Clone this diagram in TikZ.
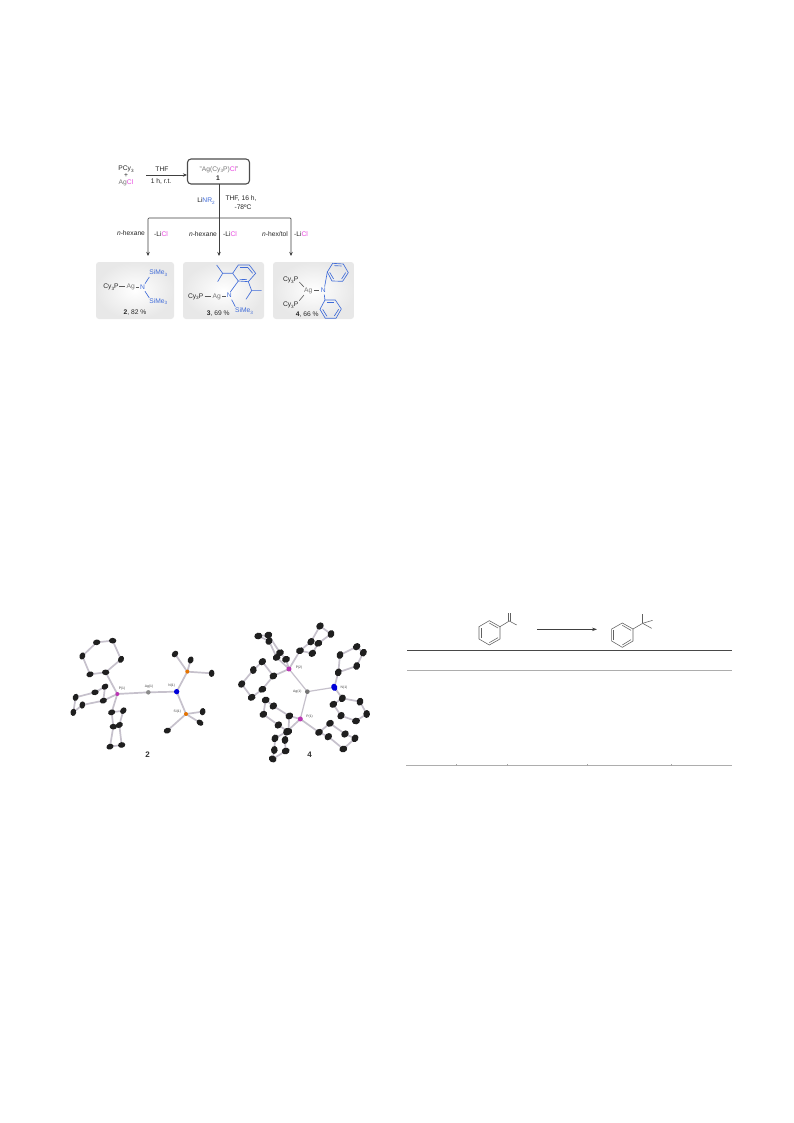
\documentclass[tikz,border=0pt]{standalone}
\usepackage{fontspec}
\setmainfont{Liberation Sans}
\definecolor{blu}{HTML}{3F6BD8}
\definecolor{mag}{HTML}{E845E0}
\definecolor{agc}{HTML}{777777}
\definecolor{bond}{HTML}{C6C1CC}
\newcommand{\sbs}[1]{\raisebox{-0.45ex}{\fontsize{4.6}{5}\selectfont #1}}
\tikzset{
  txt/.style={font=\fontsize{6.7}{7}\selectfont, text=black!85, inner sep=0pt},
  tiny/.style={font=\fontsize{3.4}{4}\selectfont, text=black!75, inner sep=0pt},
  conn/.style={draw=black!75, line width=0.7pt},
  arr/.style={conn, -{Stealth[length=4pt,width=3.5pt]}},
  panel/.style={rounded corners=3pt, shade, inner color=white, outer color=black!9},
  mline/.style={draw=black!65, line width=0.6pt},
  bline/.style={draw=blu, line width=0.65pt},
  zs/.style={x=0.3333pt, y=-0.3333pt},
  bd/.style={draw=bond, line width=1.7pt, line join=round},
  ca/.style={fill=black!88, draw=none},
  chem/.style={draw=black!62, line width=0.55pt},
  rule1/.style={draw=black!72, line width=0.7pt},
  rule2/.style={draw=black!32, line width=0.8pt},
}
\usetikzlibrary{arrows.meta}
\begin{document}
\begin{tikzpicture}[x=1pt,y=-1pt]
\useasboundingbox (0,0) rectangle (793,1123);
\fill[white] (0,0) rectangle (793,1123);

% ---------- scheme: flow ----------
\node[txt] (pcy) at (126,169) {PCy\sbs{3}};
\node[txt] (plus) at (126,176) {+};
\node[txt,text=agc] (agcl) at (126,183) {Ag\textcolor{mag}{Cl}};
\node[txt] (thf) at (162,169) {THF};
\node[txt] (rt) at (161,182) {1 h, r.t.};
\node[draw=black!70, line width=1.1pt, rounded corners=3.5pt, minimum width=62pt, minimum height=25pt, fill=white, inner sep=0pt] (box) at (218.5,171.5) {};
\node[txt,text=agc] (t1) at (219,169.5) {"Ag(Cy\sbs{3}P)\textcolor{mag}{Cl}"};
\node[txt,font=\fontsize{6.7}{7}\selectfont\bfseries] (t2) at (218,178.5) {1};
\coordinate (a0) at (146,175);
\draw[arr] (a0) -- (box.west |- a0);
\node[txt] (linr) at (206,201) {Li\textcolor{blu}{NR\sbs{2}}};
\node[txt] (c1) at (241,199) {THF, 16 h,};
\node[txt] (c2) at (243,207) {-78ºC};
\coordinate (j) at (219,218);
\coordinate (jl) at (148,218);
\coordinate (jr) at (291,218);
\coordinate (e1) at (148,256);
\coordinate (e2) at (219,256);
\coordinate (e3) at (291,256);
\coordinate (bs) at (219,184);
\draw[arr] (bs) -- (e2);
\draw[arr,rounded corners=1pt] (j) -- (jl) -- (e1);
\draw[arr,rounded corners=1pt] (j) -- (jr) -- (e3);
\node[txt] (l1) at (131,233) {\textit{n}-hexane};
\node[txt] (l2) at (161,234) {-Li\textcolor{mag}{Cl}};
\node[txt] (l3) at (203,234) {\textit{n}-hexane};
\node[txt] (l4) at (230,234) {-Li\textcolor{mag}{Cl}};
\node[txt] (l5) at (275,234) {\textit{n}-hex/tol};
\node[txt] (l6) at (301,234) {-Li\textcolor{mag}{Cl}};

% ---------- panels ----------
\path[panel] (96,262) rectangle (174,319);
\path[panel] (183,262) rectangle (264,319);
\path[panel] (273,262) rectangle (354,319);

% ---------- compound 2, 3, 4 (coordinates in zoom units) ----------
\begin{scope}[shift={(90,150)},zs]
% 2
\node[txt] (p2) at (63,412) {Cy\sbs{3}P};
\node[txt,text=agc] (ag2) at (122,411) {Ag};
\node[txt,text=blu] (n2) at (158,412) {N};
\node[txt,text=blu] (s2a) at (205,369) {SiMe\sbs{3}};
\node[txt,text=blu] (s2b) at (205,455) {SiMe\sbs{3}};
\node[txt] (y2) at (135,487) {\textbf{2}, 82 \%};
\draw[mline] (88,410) -- (106,410);
\draw[mline] (138,411) -- (148,411);
\draw[bline] (165,401) -- (178,381);
\draw[bline] (165,424) -- (178,444);
% 3
\node[txt] (p3) at (317,440) {Cy\sbs{3}P};
\node[txt,text=agc] (ag3) at (380,440) {Ag};
\node[txt,text=blu] (n3) at (418,437) {N};
\node[txt,text=blu] (s3) at (462,483) {SiMe\sbs{3}};
\node[txt] (y3) at (385,492) {\textbf{3}, 69 \%};
\draw[mline] (344,438) -- (362,438);
\draw[mline] (397,438) -- (408,438);
\draw[bline] (425,449) -- (436,470);
\draw[bline] (428,370) -- (445,345) -- (478,345) -- (497,370) -- (475,395) -- (445,393) -- cycle;
\draw[bline] (450,352) -- (474,352);
\draw[bline] (449,388) -- (471,389);
\draw[bline] (488,370) -- (473,352);
\draw[bline] (445,393) -- (421,426);
\draw[bline] (380,345) -- (398,370) -- (428,370);
\draw[bline] (398,370) -- (383,395);
\draw[bline] (475,395) -- (485,422) -- (515,422);
\draw[bline] (485,422) -- (468,448);
% 4
\node[txt] (p4a) at (602,390) {Cy\sbs{3}P};
\node[txt] (p4b) at (602,465) {Cy\sbs{3}P};
\node[txt,text=agc] (ag4) at (655,422) {Ag};
\node[txt,text=blu] (n4) at (700,422) {N};
\node[txt] (y4) at (652,495) {\textbf{4}, 66 \%};
\draw[mline] (628,396) -- (642,411);
\draw[mline] (628,452) -- (642,435);
\draw[mline] (672,422) -- (686,422);
\draw[bline] (712,366) -- (728,340) -- (760,342) -- (775,368) -- (758,394) -- (726,393) -- cycle;
\draw[bline] (733,347) -- (755,348);
\draw[bline] (767,368) -- (755,387);
\draw[bline] (731,387) -- (719,367);
\draw[bline] (704,410) -- (712,366);
\draw[bline] (705,450) -- (736,450) -- (754,477) -- (738,505) -- (706,505) -- (690,478) -- cycle;
\draw[bline] (711,456) -- (731,456);
\draw[bline] (746,478) -- (733,498);
\draw[bline] (711,499) -- (698,478);
\draw[bline] (703,434) -- (705,450);
\end{scope}

% ---------- ORTEP 2 ----------
\begin{scope}[shift={(60,610)},zs]
\draw[bd] (137,187) -- (90,193) -- (67,138) -- (110,97) -- (158,92) -- (183,148) -- cycle;
\draw[bd] (137,187) -- (172,252);
\draw[bd] (172,252) -- (130,272) -- (135,230) -- (105,247) -- (47,262) -- (40,307) -- (67,285) -- (130,272);
\draw[bd] (172,252) -- (155,307) -- (190,302) -- (178,345) -- (185,405) -- (150,410) -- (160,350) -- (155,307);
\draw[bd] (172,252) -- (265,247) -- (350,245);
\draw[bd] (350,245) -- (382,185);
\draw[bd] (382,185) -- (345,132);
\draw[bd] (382,185) -- (392,150);
\draw[bd] (382,185) -- (455,190);
\draw[bd] (350,245) -- (378,312);
\draw[bd] (378,312) -- (428,305);
\draw[bd] (378,312) -- (420,338);
\draw[bd] (378,312) -- (322,362);
\foreach \x/\y/\r in {90/193/20,67/138/70,110/97/10,158/92/0,183/148/60,137/187/0,135/230/30,105/247/10,47/262/70,40/307/80,67/285/80,130/272/20,155/307/20,190/302/50,178/345/30,185/405/10,150/410/20,160/350/0,345/132/50,392/150/70,455/190/85,428/305/80,420/338/-35,322/362/20}
  \fill[ca,rotate around={\r:(\x,\y)}] (\x,\y) ellipse (11 and 8.5);
\fill[draw=black!50,fill=black!45,line width=0.3pt] (265,247) circle (6);
\fill[blue!85!black] (350,245) circle (8);
\fill[mag!80!black] (172,252) circle (6);
\fill[orange!90!black] (382,185) circle (6);
\fill[orange!90!black] (378,312) circle (6);
\node[tiny] (o1) at (186,236) {P(1)};
\node[tiny] (o2) at (267,231) {Ag(1)};
\node[tiny] (o3) at (335,228) {N(1)};
\node[tiny] (o4) at (352,304) {Si(1)};
\node[font=\fontsize{8}{8}\selectfont\bfseries, text=black!80, inner sep=0pt] (o5) at (263,434) {2};
\end{scope}

% ---------- ORTEP 4 ----------
\begin{scope}[shift={(225,610)},zs]
\draw[bd,line width=1.2pt] (192,177) -- (247,245) -- (226,327);
\draw[bd,line width=1.2pt] (247,245) -- (328,232);
\draw[bd] (192,177) -- (225,122) -- (258,95) -- (285,48) -- (318,72) -- (280,100) -- (262,130) -- (225,122);
\draw[bd] (192,177) -- (155,142) -- (132,93) -- (100,78) -- (130,75) -- (165,128) -- (183,148) -- (192,177);
\draw[bd] (192,177) -- (145,198) -- (112,155) -- (85,180) -- (50,222) -- (80,262) -- (112,238) -- (145,198);
\draw[bd] (328,232) -- (340,187) -- (345,135) -- (395,110) -- (415,128) -- (395,168) -- (340,187);
\draw[bd] (328,232) -- (352,265) -- (405,275) -- (425,312) -- (393,333) -- (348,317) -- (325,283) -- (352,265);
\draw[bd] (226,327) -- (193,318) -- (145,288) -- (122,270) -- (115,313) -- (160,345) -- (190,365) -- (193,318);
\draw[bd] (226,327) -- (185,365) -- (150,385) -- (148,420) -- (143,447) -- (182,423) -- (180,390) -- (185,365);
\draw[bd] (226,327) -- (282,367) -- (315,340) -- (360,372) -- (390,385) -- (355,417) -- (310,380) -- (282,367);
\foreach \x/\y/\r in {225/122/20,258/95/50,285/48/40,318/72/70,280/100/20,262/130/40,155/142/30,132/93/60,100/78/10,130/75/20,165/128/20,183/148/20,145/198/30,112/155/40,85/180/80,50/222/50,80/262/30,112/238/20,340/187/70,345/135/70,395/110/40,415/128/60,395/168/70,352/265/60,405/275/70,425/312/85,393/333/10,348/317/50,325/283/30,193/318/30,145/288/40,122/270/20,115/313/30,160/345/40,190/365/30,185/365/60,150/385/60,148/420/80,143/447/-30,182/423/20,180/390/80,282/367/30,315/340/30,360/372/40,390/385/60,355/417/20,310/380/40}
  \fill[ca,rotate around={\r:(\x,\y)}] (\x,\y) ellipse (12 and 10);
\fill[fill=black!55] (247,245) circle (7);
\fill[blue!85!black,rotate around={20:(328,232)}] (328,232) ellipse (9 and 11);
\fill[mag!80!black] (192,177) circle (7.5);
\fill[mag!80!black] (226,327) circle (7.5);
\node[tiny] (q1) at (222,173) {P(2)};
\node[tiny] (q2) at (217,246) {Ag(1)};
\node[tiny] (q3) at (357,232) {N(1)};
\node[tiny] (q4) at (254,320) {P(1)};
\node[font=\fontsize{8}{8}\selectfont\bfseries, text=black!80, inner sep=0pt] (q5) at (254,434) {4};
\end{scope}

% ---------- table ----------
\begin{scope}[shift={(400,605)},zs]
\coordinate (r1a) at (21,135); \coordinate (r1b) at (996,135);
\coordinate (r2a) at (21,195); \coordinate (r2b) at (996,195);
\coordinate (r3a) at (18,480); \coordinate (r3b) at (996,480);
\draw[rule1] (r1a) -- (r1b);
\draw[rule2] (r2a) -- (r2b);
\draw[rule2] (r3a) -- (r3b);
\foreach \x in {170,323,563,813}
  \draw[black!35,line width=0.5pt] (\x,478) -- (\x,482);
\draw[chem] (268,47) -- (300,65) -- (300,102) -- (268,120) -- (237,102) -- (237,65) -- cycle;
\draw[chem] (243,69) -- (243,98);
\draw[chem] (268,54) -- (294,69);
\draw[chem] (294,98) -- (268,113);
\draw[chem] (300,65) -- (328,48) -- (350,60);
\draw[chem] (326,48) -- (326,25);
\draw[chem] (331,48) -- (331,25);
\coordinate (ra) at (412,73); \coordinate (rb) at (591,73);
\draw[draw=black!75,line width=0.55pt,-{Stealth[length=5pt,width=3.5pt]}] (ra) -- (rb);
\draw[chem] (667,54) -- (699,72) -- (699,108) -- (667,127) -- (635,108) -- (635,72) -- cycle;
\draw[chem] (641,76) -- (641,104);
\draw[chem] (667,61) -- (693,76);
\draw[chem] (693,104) -- (667,120);
\draw[chem] (699,72) -- (728,55);
\draw[chem] (728,55) -- (728,28);
\draw[chem] (728,55) -- (758,46);
\draw[chem] (728,55) -- (755,70);
\end{scope}
\end{tikzpicture}
\end{document}
